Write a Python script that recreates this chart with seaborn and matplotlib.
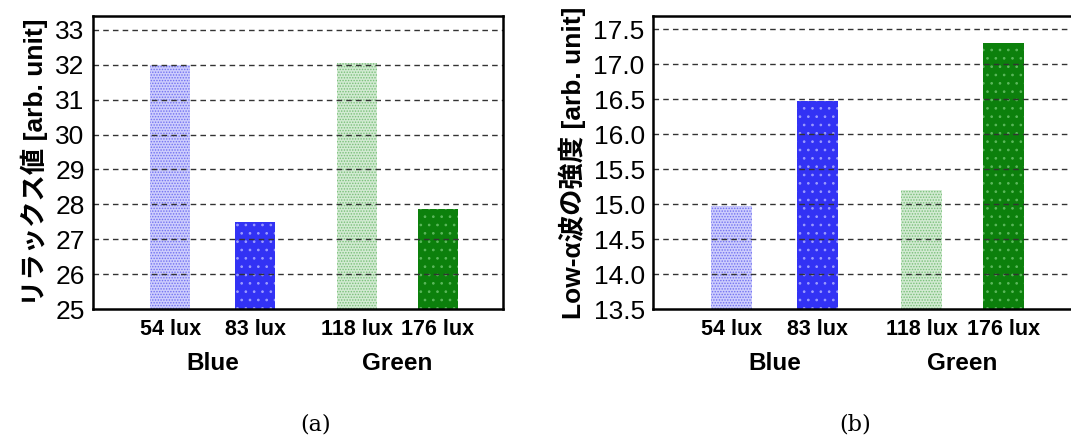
import pandas as pd
import matplotlib
matplotlib.use('Agg')
import matplotlib.pyplot as plt
import matplotlib.transforms as mtransforms
import seaborn as sns

# Datos
etiquetas = ['54 lux', '83 lux', '118 lux', '176 lux']
grupos = ['Blue', 'Green']
relax = [32.0, 27.5, 32.05, 27.88]
low_alpha = [14.97, 16.47, 15.2, 17.3]

# posiciones en el eje x (hay un hueco entre los grupos)
posiciones = [0, 1, 2.2, 3.15]
caras = ['#cdcdfd', '#3232f4', '#d2ead2', '#0c800c']
puntos = ['#7070f0', '#9c9cff', '#78c078', '#5cb85c']
tramas = ['......', '..', '......', '..']

sns.set_style('white')
plt.rcParams['font.family'] = ['Liberation Sans', 'Noto Sans CJK JP']
plt.rcParams['hatch.linewidth'] = 0.7
plt.rcParams['text.color'] = 'black'
plt.rcParams['axes.labelcolor'] = 'black'
plt.rcParams['xtick.color'] = 'black'
plt.rcParams['ytick.color'] = 'black'

fig = plt.figure(figsize=(10.71, 4.38), dpi=100)
ax1 = fig.add_axes([0.0868, 0.2945, 0.383, 0.669])
ax2 = fig.add_axes([0.6097, 0.2945, 0.40, 0.669])


def grafico(ax, valores, ylabel, ylim, yticks, fmt, xlim):
    df = pd.DataFrame({'pos': posiciones, 'valor': valores, 'etiqueta': etiquetas})
    sns.barplot(data=df, x='pos', y='valor', hue='etiqueta', palette=caras, saturation=1,
                native_scale=True, dodge=False, width=0.5, legend=False, ax=ax)
    for barra, p, t in zip(ax.patches, puntos, tramas):
        barra.set_hatch(t)
        barra.set_edgecolor(p)
        barra.set_linewidth(0)
        barra.set_zorder(1)
    ax.set_ylim(ylim)
    ax.set_xlim(xlim)
    ax.set_yticks(yticks)
    ax.set_yticklabels([fmt.format(v) for v in yticks], fontsize=19)
    ax.set_xticks(posiciones)
    ax.set_xticklabels(etiquetas, fontsize=15.5, fontweight='bold')
    ax.tick_params(axis='both', length=0)
    ax.tick_params(axis='y', pad=6)
    ax.tick_params(axis='x', pad=7)
    for y in yticks[1:]:
        ax.axhline(y, color='#333333', linestyle=(0, (4, 3)), linewidth=1.0, zorder=2)
    for s in ax.spines.values():
        s.set_color('black')
        s.set_linewidth(1.8)
        s.set_zorder(3)
    ax.set_xlabel('')
    ax.set_ylabel(ylabel, fontsize=19, fontweight='bold', labelpad=5)
    trans = mtransforms.blended_transform_factory(ax.transData, ax.transAxes)
    ax.text((posiciones[0] + posiciones[1]) / 2, -0.185, grupos[0], transform=trans,
            ha='center', va='center', fontsize=17.5, fontweight='bold')
    ax.text((posiciones[2] + posiciones[3]) / 2, -0.185, grupos[1], transform=trans,
            ha='center', va='center', fontsize=17.5, fontweight='bold')


grafico(ax1, relax, 'リラックス値 [arb. unit]', (25, 33.4),
        [25, 26, 27, 28, 29, 30, 31, 32, 33], '{:.0f}', (-0.91, 3.92))
grafico(ax2, low_alpha, 'Low-α波の強度 [arb. unit]', (13.5, 17.69),
        [13.5, 14.0, 14.5, 15.0, 15.5, 16.0, 16.5, 17.0, 17.5], '{:.1f}', (-0.91, 4.05))

fig.text(0.295, 0.03, '(a)', ha='center', va='center', fontsize=16, family='DejaVu Serif')
fig.text(0.798, 0.03, '(b)', ha='center', va='center', fontsize=16, family='DejaVu Serif')

plt.savefig('out.png', dpi=100)
